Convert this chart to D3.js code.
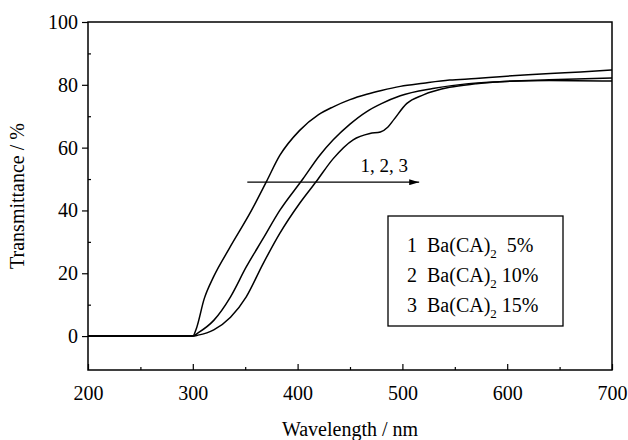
<!DOCTYPE html>
<html>
<head>
<meta charset="utf-8">
<script src="https://cdn.jsdelivr.net/npm/d3@7"></script>
<style>
  body { margin: 0; background: #fff; }
  text { font-family: "Liberation Serif", "Times New Roman", serif; fill: #000; }
</style>
</head>
<body>
<div id="chart"></div>
<script>
// data
var wl1 = [200, 300, 303, 311, 320, 335, 356, 370, 383, 402, 420, 434, 450, 466, 480, 498, 520, 545, 570, 593, 620, 641, 670, 700];
var t1  = [0, 0, 2, 12, 19, 28, 40, 49, 57.5, 65.5, 70.5, 73, 75.3, 77, 78.2, 79.5, 80.5, 81.5, 82, 82.6, 83.2, 83.6, 84.1, 84.7];

var wl2 = [200, 300, 305, 320, 336, 351, 367, 383, 405, 421, 434, 450, 466, 480, 498, 529, 561, 593, 640, 700];
var t2  = [0, 0, 1, 5, 12.5, 22, 31, 40, 50, 57.5, 62.5, 67.5, 71.5, 74, 76.5, 78.8, 80.3, 81, 81.6, 82.2];

var wl3 = [200, 300, 305, 320, 336, 351, 367, 383, 402, 418, 434, 453, 469, 479, 486, 492, 504, 520, 545, 570, 593, 640, 700];
var t3  = [0, 0, 0.3, 2, 6, 12.5, 23, 32.7, 42.3, 49.3, 56.5, 62.5, 64.5, 65, 66.5, 69, 74, 76.8, 79.2, 80.3, 81, 81.4, 81.2];

var xTicks = [200, 300, 400, 500, 600, 700];
var yTicks = [0, 20, 40, 60, 80, 100];
var legendItems = [["1", "  5%"], ["2", " 10%"], ["3", " 15%"]];

var svgWidth = 628, svgHeight = 440;
var margin = {top: 22, right: 16, bottom: 70, left: 88};
var width = svgWidth - margin.left - margin.right;
var height = svgHeight - margin.top - margin.bottom;

var svg = d3.select("#chart").append("svg")
  .attr("width", svgWidth)
  .attr("height", svgHeight);

var chart = svg.append("g")
  .attr("transform", `translate(${margin.left}, ${margin.top})`);

var x = d3.scaleLinear().domain([200, 700]).range([0, width]);
var y = d3.scaleLinear().domain([-10.8, 100]).range([height, 0]);

// frame
chart.append("rect")
  .attr("width", width).attr("height", height)
  .attr("fill", "none").attr("stroke", "#000").attr("stroke-width", 1.5);

// x axis: ticks point inward
chart.append("g")
  .attr("transform", `translate(0, ${height})`)
  .call(d3.axisBottom(x).tickValues(d3.range(250, 700, 100)).tickSize(-3).tickFormat(""))
  .call(g => g.select(".domain").remove());
chart.append("g")
  .attr("transform", `translate(0, ${height})`)
  .call(d3.axisBottom(x).tickValues(xTicks).tickSize(-6).tickPadding(16))
  .call(g => g.select(".domain").remove())
  .call(g => g.selectAll("text").attr("font-size", 20).attr("font-family", "Liberation Serif"));

// y axis: major ticks outward, minor inward
chart.append("g")
  .call(d3.axisLeft(y).tickValues(d3.range(10, 100, 20)).tickSize(-3).tickFormat(""))
  .call(g => g.select(".domain").remove());
chart.append("g")
  .call(d3.axisLeft(y).tickValues(yTicks).tickSize(6).tickPadding(4))
  .call(g => g.select(".domain").remove())
  .call(g => g.selectAll("text").attr("font-size", 20).attr("font-family", "Liberation Serif"));

chart.selectAll(".tick line").attr("stroke", "#000").attr("stroke-width", 1.2);

// curves
var line = d3.line()
  .x(d => x(d[0]))
  .y(d => y(d[1]))
  .curve(d3.curveMonotoneX);

[[wl1, t1], [wl2, t2], [wl3, t3]].forEach(function(s) {
  chart.append("path")
    .datum(d3.zip(s[0], s[1]))
    .attr("d", line)
    .attr("fill", "none")
    .attr("stroke", "#000")
    .attr("stroke-width", 1.5);
});

// arrow 1, 2, 3
svg.append("defs").append("marker")
  .attr("id", "head")
  .attr("viewBox", "0 0 10 6")
  .attr("refX", 10).attr("refY", 3)
  .attr("markerWidth", 10).attr("markerHeight", 6)
  .attr("markerUnits", "userSpaceOnUse")
  .attr("orient", "auto")
  .append("path").attr("d", "M0,0 L10,3 L0,6 Z").attr("fill", "#000");

chart.append("line")
  .attr("x1", x(352)).attr("x2", x(516))
  .attr("y1", y(49)).attr("y2", y(49))
  .attr("stroke", "#000").attr("stroke-width", 1.3)
  .attr("marker-end", "url(#head)");

chart.append("text")
  .attr("x", x(460)).attr("y", y(49) - 10)
  .attr("font-size", 19)
  .text("1, 2, 3");

// legend
var lg = svg.append("g").attr("transform", "translate(388, 216)");
lg.append("rect")
  .attr("width", 175).attr("height", 110)
  .attr("fill", "#fff").attr("stroke", "#000").attr("stroke-width", 1.3);

legendItems.forEach(function(d, i) {
  var t = lg.append("text")
    .attr("x", 19).attr("y", 36 + i * 30)
    .attr("font-size", 20)
    .style("white-space", "pre");
  t.append("tspan").text(d[0] + "  Ba(CA)");
  t.append("tspan").attr("font-size", 13).attr("dy", 6).text("2");
  t.append("tspan").attr("dy", -6).text(d[1]);
});

// axis titles
svg.append("text")
  .attr("x", margin.left + width / 2).attr("y", 436)
  .attr("text-anchor", "middle")
  .attr("font-size", 20)
  .text("Wavelength / nm");

svg.append("text")
  .attr("transform", `translate(24, ${margin.top + height / 2}) rotate(-90)`)
  .attr("text-anchor", "middle")
  .attr("font-size", 20)
  .text("Transmittance / %");
</script>
</body>
</html>
